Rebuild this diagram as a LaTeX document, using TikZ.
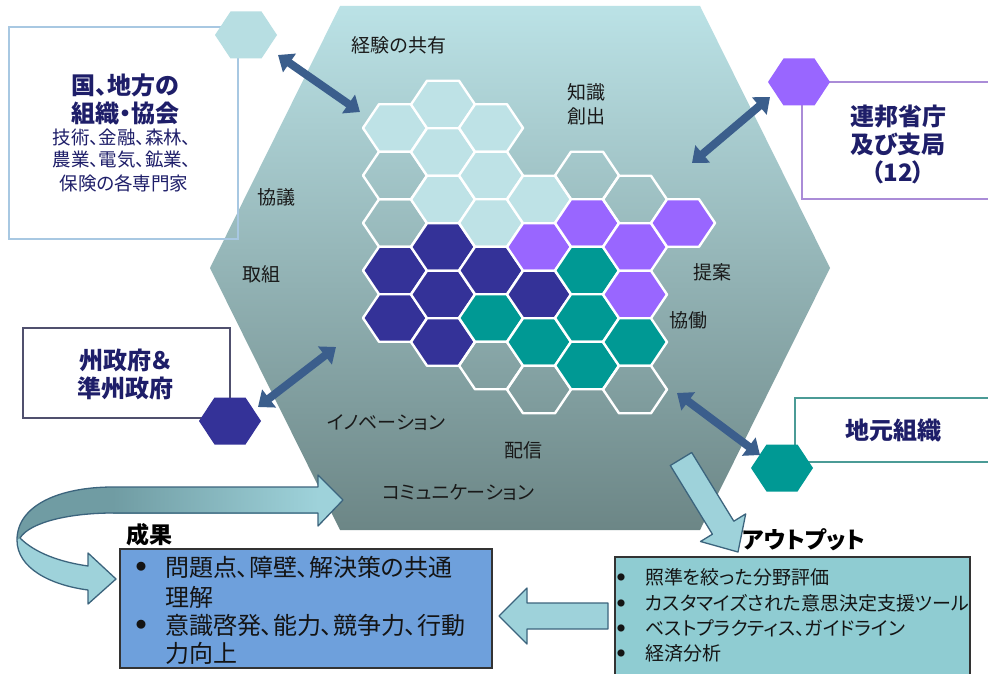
\documentclass[tikz,border=0pt]{standalone}
\usepackage{fontspec}
\setmainfont{Noto Sans CJK JP}[RawFeature=+palt]
\usetikzlibrary{arrows.meta}
\definecolor{txtNavy}{RGB}{30,30,105}
\definecolor{hexTop}{RGB}{187,226,230}
\definecolor{hexMid}{RGB}{152,194,198}
\definecolor{hexBot}{RGB}{108,134,134}
\definecolor{cellLight}{RGB}{190,226,230}
\definecolor{cellDark}{RGB}{52,50,152}
\definecolor{cellPurple}{RGB}{153,102,255}
\definecolor{cellTeal}{RGB}{0,153,148}
\definecolor{arrowBlue}{RGB}{59,94,140}
\definecolor{boxBlueLine}{RGB}{168,200,226}
\definecolor{boxPurpleLine}{RGB}{170,140,215}
\definecolor{boxSlateLine}{RGB}{80,80,110}
\definecolor{boxTealLine}{RGB}{75,155,150}
\definecolor{tlHex}{RGB}{183,222,226}
\definecolor{resFill}{RGB}{110,160,220}
\definecolor{outFill}{RGB}{143,204,210}
\definecolor{blkFill}{RGB}{158,210,218}
\definecolor{blkLine}{RGB}{60,100,125}
\definecolor{blkDark}{RGB}{112,156,163}
\newcommand\fsz[2]{\fontsize{#1}{#2}\selectfont}
\newcommand\hexcell[3]{\path[cellstyle,#3] (#1,#2) ++(-32,0) -- ++(16,-23.75) -- ++(32,0) -- ++(16,23.75) -- ++(-16,23.75) -- ++(-32,0) -- cycle;}
\newcommand\smallhex[3]{\path[#3] (#1,#2) ++(-31,0) -- ++(15.5,-23.5) -- ++(31,0) -- ++(15.5,23.5) -- ++(-15.5,23.5) -- ++(-31,0) -- cycle;}
\tikzset{
  cellstyle/.style={draw=white, line width=2.4pt, line join=round},
  lbl/.style={inner sep=0pt, text=black!90, font=\fsz{19}{24}, align=center},
  ttl/.style={inner sep=0pt, text=txtNavy, font=\fsz{24}{28}\bfseries, align=center},
  subttl/.style={inner sep=0pt, text=txtNavy, font=\fsz{18.5}{23}},
  dblarrow/.style={draw=arrowBlue, line width=8pt, {Triangle[width=22pt,length=14pt]}-{Triangle[width=22pt,length=14pt]}},
  blkarrow/.style={fill=blkFill, draw=blkLine, line width=1.3pt, line join=round},
  restxt/.style={inner sep=0pt, text=black!92, font=\fsz{24}{29}, anchor=west},
  resbul/.style={inner sep=0pt, text=black!92, font=\fsz{10}{12}},
  outtxt/.style={inner sep=0pt, text=black!92, font=\fsz{19}{24}, anchor=west},
  outbul/.style={inner sep=0pt, text=black!92, font=\fsz{8}{10}},
  heading/.style={inner sep=0pt, text=black, font=\fsz{23}{28}\bfseries}
}
\begin{document}
\begin{tikzpicture}[x=1pt,y=-1pt]
\useasboundingbox[fill=white] (0,0) rectangle (988,674);

% big hexagon
\shade[top color=hexTop, middle color=hexMid, bottom color=hexBot]
  (340,6) -- (700,6) -- (830,268) -- (700,530) -- (340,530) -- (210,268) -- cycle;

% honeycomb
\hexcell{395}{128}{fill=cellLight}
\hexcell{395}{175.5}{}
\hexcell{395}{223}{}
\hexcell{395}{270.5}{fill=cellDark}
\hexcell{395}{318}{fill=cellDark}
\hexcell{443}{104.5}{fill=cellLight}
\hexcell{443}{152}{fill=cellLight}
\hexcell{443}{199.5}{fill=cellLight}
\hexcell{443}{247}{fill=cellDark}
\hexcell{443}{294.5}{fill=cellDark}
\hexcell{443}{342}{fill=cellDark}
\hexcell{491}{128}{fill=cellLight}
\hexcell{491}{175.5}{fill=cellLight}
\hexcell{491}{223}{fill=cellLight}
\hexcell{491}{270.5}{fill=cellDark}
\hexcell{491}{318}{fill=cellTeal}
\hexcell{491}{365.5}{}
\hexcell{539}{199.5}{fill=cellLight}
\hexcell{539}{247}{fill=cellPurple}
\hexcell{539}{294.5}{fill=cellDark}
\hexcell{539}{342}{fill=cellTeal}
\hexcell{539}{389.5}{}
\hexcell{587}{175.5}{}
\hexcell{587}{223}{fill=cellPurple}
\hexcell{587}{270.5}{fill=cellTeal}
\hexcell{587}{318}{fill=cellTeal}
\hexcell{587}{365.5}{fill=cellTeal}
\hexcell{635}{199.5}{}
\hexcell{635}{247}{fill=cellPurple}
\hexcell{635}{294.5}{fill=cellPurple}
\hexcell{635}{342}{fill=cellTeal}
\hexcell{635}{389.5}{}
\hexcell{683}{223}{fill=cellPurple}

% labels in hexagon
\node[lbl] (lkeiken) at (399,45) {経験の共有};
\node[lbl] (lchishiki) at (586,104) {知識\\創出};
\node[lbl] (lkyougi) at (276,197) {協議};
\node[lbl] (ltorikumi) at (261,274) {取組};
\node[lbl] (lteian) at (712,272) {提案};
\node[lbl] (lkyoudou) at (688,320) {協働};
\node[lbl] (linnov) at (386,423) {イノベーション};
\node[lbl] (lhaishin) at (523,450) {配信};
\node[lbl] (lcomm) at (458,493) {コミュニケーション};

% down arrow to output
\path[blkarrow] (670.3,465.5) -- (691.7,452.5) -- (733.8,521.2) -- (745.7,513.9) -- (738.0,552.0) -- (700.5,541.5) -- (712.4,534.2) -- cycle;

% side boxes
\draw[boxBlueLine, line width=1.6pt] (9,27) rectangle (238,239);
\smallhex{246}{35}{fill=tlHex}
\draw[boxPurpleLine, line width=1.6pt] (995,82) -- (802,82) -- (802,199) -- (995,199);
\smallhex{799}{82}{fill=cellPurple}
\draw[boxSlateLine, line width=1.8pt] (23,328) rectangle (230,418);
\smallhex{230}{421}{fill=cellDark}
\draw[boxTealLine, line width=1.6pt] (995,398) -- (795,398) -- (795,462) -- (995,462);
\smallhex{782}{468}{fill=cellTeal}

% named ends of the double arrows
\coordinate (a1s) at (278,55);  \coordinate (a1e) at (360,112);
\coordinate (a2s) at (770,97);  \coordinate (a2e) at (692,163);
\coordinate (a3s) at (336,347); \coordinate (a3e) at (258,407);
\coordinate (a4s) at (677,393); \coordinate (a4e) at (760,455);
\draw[dblarrow] (a1s) -- (a1e);
\draw[dblarrow] (a2s) -- (a2e);
\draw[dblarrow] (a3s) -- (a3e);
\draw[dblarrow] (a4s) -- (a4e);

% box texts
\node[ttl] (t1a) at (125,85) {国、地方の};
\node[ttl] (t1b) at (125,113) {組織・協会};
\node[subttl] (t1c) at (122,137) {技術、金融、森林、};
\node[subttl] (t1d) at (122,160) {農業、電気、鉱業、};
\node[subttl] (t1e) at (124,183) {保険の各専門家};
\node[ttl] (t2) at (898,144) {連邦省庁\\及び支局\\（12）};
\node[ttl] (t3) at (125,374) {州政府＆\\準州政府};
\node[ttl] (t4) at (893,430) {地元組織};

% result box
\node[heading] (hres) at (149,535) {成果};
\draw[draw=black!80, line width=1.6pt, fill=resFill] (120,549) rectangle (492,668);
\node[resbul] (rb1) at (141,567) {●};
\node[restxt] (r1) at (165,567) {問題点、障壁、解決策の共通};
\node[restxt] (r2) at (165,597) {理解};
\node[resbul] (rb2) at (141,625) {●};
\node[restxt] (r3) at (165,625) {意識啓発、能力、競争力、行動};
\node[restxt] (r4) at (165,653) {力向上};

% output box
\node[heading] (hout) at (804,540) {アウトプット};
\draw[draw=black!80, line width=1.6pt, fill=outFill] (615,557) rectangle (970,690);
\node[outbul] (ob1) at (621,577) {●};
\node[outtxt] (o1) at (645,577) {照準を絞った分野評価};
\node[outbul] (ob2) at (621,603) {●};
\node[outtxt] (o2) at (645,603) {カスタマイズされた意思決定支援ツール};
\node[outbul] (ob3) at (621,628) {●};
\node[outtxt] (o3) at (645,628) {ベストプラクティス、ガイドライン};
\node[outbul] (ob4) at (621,653) {●};
\node[outtxt] (o4) at (645,653) {経済分析};

% left arrow output -> result
\path[blkarrow] (608,603) -- (527,603) -- (527,588) -- (499,616) -- (527,644) -- (527,629) -- (608,629) -- cycle;

% curved U-turn arrow
\fill[blkFill]
  (113,487) -- (318,487) -- (318,475) -- (343,500) -- (318,526) -- (318,513) -- (113,513)
  .. controls (70,513) and (30,522) .. (20,538)
  .. controls (35,553) and (60,562) .. (88,566)
  -- (88,553) -- (116,579) -- (88,604) -- (88,590)
  .. controls (50,585) and (17,568) .. (17,540)
  .. controls (17,505) and (60,487) .. (113,487) -- cycle;
\fill[blkDark] (113,487) .. controls (60,487) and (17,505) .. (17,540)
  -- (20,538) .. controls (30,522) and (70,513) .. (113,513) -- cycle;
\shade[left color=blkDark, right color=blkFill] (113,487) rectangle (318,513);
\draw[blkLine, line width=1.3pt, line join=round]
  (113,487) -- (318,487) -- (318,475) -- (343,500) -- (318,526) -- (318,513) -- (113,513)
  .. controls (70,513) and (30,522) .. (20,538)
  .. controls (35,553) and (60,562) .. (88,566)
  -- (88,553) -- (116,579) -- (88,604) -- (88,590)
  .. controls (50,585) and (17,568) .. (17,540)
  .. controls (17,505) and (60,487) .. (113,487) -- cycle;
\end{tikzpicture}
\end{document}
